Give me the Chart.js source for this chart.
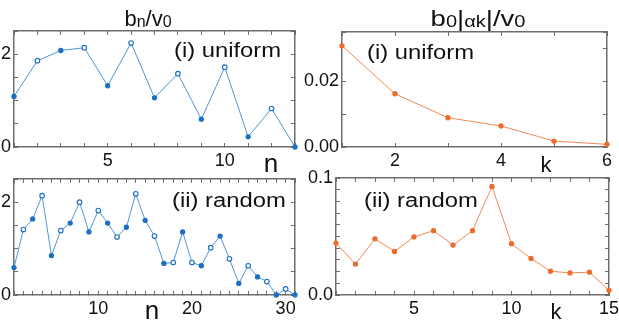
<!DOCTYPE html>
<html><head><meta charset="utf-8">
<script src="https://cdn.jsdelivr.net/npm/chart.js@4/dist/chart.umd.min.js"></script>
<style>
html,body{margin:0;padding:0;background:#fff;overflow:hidden;width:619px;height:328px;}
.panel{position:absolute;}
.panel canvas{display:block;}
.txt{position:absolute;font-family:"Liberation Sans",Arial,sans-serif;color:#111;white-space:nowrap;line-height:1;z-index:5;}
.sub{font-size:16px;vertical-align:-1px;}
.ann{font-size:20px;transform-origin:left center;transform:scaleX(1.19);}
</style></head><body>

<div class="panel" style="left:0;top:0;"><canvas id="cTL" width="312" height="175"></canvas></div>
<div class="panel" style="left:0;top:155px;"><canvas id="cBL" width="312" height="173"></canvas></div>
<div class="panel" style="left:300px;top:0;"><canvas id="cTR" width="325" height="175"></canvas></div>
<div class="panel" style="left:300px;top:155px;"><canvas id="cBR" width="328" height="173"></canvas></div>

<div class="txt" style="left:148px;top:8px;font-size:22px;transform:translateX(-50%);">b<span class="sub">n</span>/v<span class="sub">0</span></div>
<div class="txt" style="left:478px;top:8px;font-size:22px;transform:translateX(-50%) scaleX(1.25);">b<span class="sub">0</span>|<span class="sub">αk</span>|/v<span class="sub">0</span></div>

<div class="txt ann" style="left:174px;top:40px;">(i) uniform</div>
<div class="txt ann" style="left:172px;top:190px;">(ii) random</div>
<div class="txt ann" style="left:367px;top:42px;">(i) uniform</div>
<div class="txt ann" style="left:364px;top:190px;">(ii) random</div>

<div class="txt" style="left:271px;top:150px;font-size:26px;transform:translateX(-50%);">n</div>
<div class="txt" style="left:152px;top:297px;font-size:26px;transform:translateX(-50%);">n</div>
<div class="txt" style="left:546px;top:154px;font-size:22px;transform:translateX(-50%);">k</div>
<div class="txt" style="left:556px;top:301px;font-size:22px;transform:translateX(-50%);">k</div>

<script>
// ---- data ----
const nUniform = [1,2,3,4,5,6,7,8,9,10,11,12,13];
const bUniform = [1.09,1.86,2.08,2.14,1.32,2.24,1.06,1.58,0.60,1.72,0.22,0.83,0.00];

const nRandom = [1,2,3,4,5,6,7,8,9,10,11,12,13,14,15,16,17,18,19,20,21,22,23,24,25,26,27,28,29,30,31];
const bRandom = [0.59,1.41,1.64,2.14,0.85,1.39,1.55,2.00,1.36,1.82,1.55,1.25,1.46,2.18,1.61,1.27,0.68,0.70,1.36,0.70,0.63,1.02,1.27,0.78,0.25,0.63,0.39,0.29,0.00,0.13,0.00];

const kUniform = [1,2,3,4,5,6];
const aUniform = [0.0308,0.0162,0.0089,0.0064,0.0018,0.0008];

const kRandom = [1,2,3,4,5,6,7,8,9,10,11,12,13,14,15];
const aRandom = [0.0444,0.0264,0.0480,0.0372,0.0496,0.0550,0.0427,0.0550,0.0928,0.0438,0.0312,0.0203,0.0189,0.0195,0.0040];

// ---- tick labels ----
const xLabelsUniformN = ['5','10'];
const xLabelsRandomN = ['10','20','30'];
const xLabelsUniformK = ['2','4','6'];
const xLabelsRandomK = ['5','10','15'];
const yLabelsB = ['0','2'];
const yLabelsUniformA = ['0.00','0.02'];
const yLabelsRandomA = ['0.0','0.1'];

const BLUE = '#1b6fc2', BLUE_LINE = '#4a97dc';
const ORANGE = '#ee6a2a', ORANGE_LINE = '#f28a55';
const AXIS = '#6e6e6e';
const FONT = '"Liberation Sans", Arial, sans-serif';
Chart.defaults.font.family = FONT;

function labeler(list){
  return (v) => { const f = list.find(l => Math.abs(parseFloat(l) - v) < 1e-9); return f === undefined ? '' : f; };
}

function axis(pos, min, max, step, labels, size){
  const horiz = pos === 'bottom' || pos === 'top';
  return {
    type:'linear', position:pos, min:min, max:max,
    afterFit: s => { if (horiz) s.height = size; else s.width = size; },
    grid:{drawOnChartArea:false, drawTicks:true, tickLength:-4, color:AXIS, lineWidth:1},
    border:{display:true, color:AXIS, width:1.5},
    ticks: labels ? {
      display:true, stepSize:step, autoSkip:false, maxRotation:0, minRotation:0,
      padding:horiz ? 7 : 7, color:'#111', font:{family:FONT, size:18}, callback: labeler(labels)
    } : {display:false, stepSize:step, autoSkip:false}
  };
}

function panel(id, xs, ys, color, lineColor, openEven, xr, yr, pad, xH, yW){
  new Chart(document.getElementById(id), {
    type:'line',
    data:{datasets:[{
      data: xs.map((x,i)=>({x:x, y:ys[i]})),
      borderColor: lineColor, borderWidth:1, tension:0, clip:false,
      pointRadius: ctx => (openEven && ctx.dataIndex % 2 === 1) ? 2.3 : 2.1,
      pointHoverRadius:2.1, pointBorderWidth:1.1,
      pointBorderColor: color,
      pointBackgroundColor: ctx => (openEven && ctx.dataIndex % 2 === 1) ? '#ffffff' : color
    }]},
    options:{
      responsive:false, animation:false, devicePixelRatio:1,
      layout:{padding:pad},
      plugins:{legend:{display:false}, tooltip:{enabled:false}, title:{display:false}},
      scales:{
        x: axis('bottom', xr[0], xr[1], xr[2], xr[3], xH),
        x2: axis('top', xr[0], xr[1], xr[2], null, 0),
        y: axis('left', yr[0], yr[1], yr[2], yr[3], yW),
        y2: axis('right', yr[0], yr[1], yr[2], null, 0)
      }
    }
  });
}

panel('cTL', nUniform, bUniform, BLUE, BLUE_LINE, true,
  [1,13,1,xLabelsUniformN], [0,2.5,0.5,yLabelsB], {top:31,right:17,bottom:0,left:0}, 28, 14);
panel('cBL', nRandom, bRandom, BLUE, BLUE_LINE, true,
  [1,31,1,xLabelsRandomN], [0,2.5,0.5,yLabelsB], {top:24,right:17,bottom:0,left:0}, 33, 14);
panel('cTR', kUniform, aUniform, ORANGE, ORANGE_LINE, false,
  [1,6,1,xLabelsUniformK], [0,0.035,0.01,yLabelsUniformA], {top:32,right:18,bottom:0,left:0}, 28, 42);
panel('cBR', kRandom, aRandom, ORANGE, ORANGE_LINE, false,
  [1,15,1,xLabelsRandomK], [0,0.1,0.01,yLabelsRandomA], {top:23,right:19,bottom:0,left:0}, 33, 36);
</script>
</body></html>
